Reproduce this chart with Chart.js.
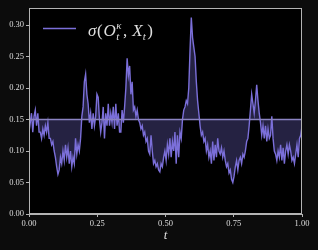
<!DOCTYPE html>
<html><head><meta charset="utf-8">
<script src="https://cdn.jsdelivr.net/npm/chart.js@4"></script>
<style>html,body{margin:0;padding:0;background:#0c0c0c;}#w{width:318px;height:250px;}</style>
</head><body><div id="w"><canvas id="c" width="318" height="250"></canvas></div>
<script>
const sigmaValues = [
0.13,0.145,0.16,0.13,0.155,
0.165,0.14,0.16,0.13,
0.13,0.12,0.135,0.125,
0.14,0.13,0.145,0.12,
0.12,0.11,0.115,0.10,
0.09,0.075,0.063,0.07,
0.09,0.08,0.10,0.085,
0.11,0.09,0.105,0.08,
0.10,0.075,0.09,0.08,
0.12,0.095,0.11,0.10,
0.12,0.155,
0.17,0.21,0.222,0.19,
0.175,0.145,0.16,0.135,
0.16,0.14,0.155,0.19,
0.185,0.15,0.13,0.145,
0.17,0.12,0.16,0.14,
0.175,0.14,0.16,0.145,
0.17,0.135,0.175,0.14,0.16,0.13,
0.13,0.165,0.145,
0.17,0.20,0.247,0.22,
0.235,0.19,0.21,0.165,
0.17,0.155,0.165,0.15,
0.145,0.135,0.14,0.125,
0.13,0.115,0.12,0.10,
0.095,0.125,0.10,0.08,
0.085,0.075,0.08,0.07,
0.067,0.08,0.075,0.09,
0.10,0.085,0.11,0.095,
0.12,0.09,0.115,0.10,
0.13,0.08,0.125,0.09,
0.13,0.12,0.15,0.165,
0.17,0.18,0.175,0.20,
0.26,0.312,0.28,0.265,
0.25,0.21,0.18,0.16,
0.14,0.125,0.13,0.115,
0.12,0.10,0.11,0.09,0.10,
0.08,0.115,0.085,
0.11,0.09,0.12,0.10,
0.095,0.105,0.09,0.10,
0.085,0.075,0.08,0.065,
0.07,0.055,0.05,0.06,
0.075,0.085,0.07,0.085,
0.09,0.08,0.095,0.09,
0.10,0.115,0.12,0.14,
0.165,0.19,0.175,0.16,
0.18,0.205,0.18,0.16,
0.145,0.125,0.14,0.12,
0.14,0.115,0.135,0.12,
0.125,0.155,0.12,0.10,
0.095,0.085,0.10,0.09,
0.11,0.085,0.105,0.08,
0.10,0.11,0.095,0.11,
0.10,0.085,0.09,0.08,
0.095,0.11,0.09,0.12,
0.125,0.14
];
const tStart = 0, tEnd = 1;
const threshold = 0.15;
const xTicks = [0, 0.25, 0.5, 0.75, 1.0];
const yTicks = [0, 0.05, 0.10, 0.15, 0.20, 0.25, 0.30];

const N = sigmaValues.length;
const seriesPoints = sigmaValues.map((v,i)=>({x: tStart + (tEnd-tStart)*i/(N-1), y: v}));
const thresholdPoints = [{x:tStart,y:threshold},{x:tEnd,y:threshold}];

const LINE = '#7b6fd9';
const SPINE = '#b4b4b4';
const TXT = '#dedede';
const SERIF = '"Liberation Serif", "DejaVu Serif", serif';

const framePlugin = {
  id:'frame',
  beforeDraw(chart){
    const {ctx, chartArea:a} = chart;
    ctx.save(); ctx.fillStyle='#000'; ctx.fillRect(a.left,a.top,a.right-a.left,a.bottom-a.top); ctx.restore();
  },
  afterDraw(chart){
    const {ctx, chartArea:a} = chart;
    ctx.save();
    ctx.strokeStyle=SPINE; ctx.lineWidth=1;
    ctx.strokeRect(Math.round(a.left)+0.5, Math.round(a.top)+0.5, Math.round(a.right-a.left)-1, Math.round(a.bottom-a.top)-1);
    // legend
    ctx.strokeStyle=LINE; ctx.lineWidth=1.5;
    ctx.beginPath(); ctx.moveTo(43,28.5); ctx.lineTo(76,28.5); ctx.stroke();
    ctx.fillStyle=TXT; ctx.textBaseline='alphabetic'; ctx.textAlign='left';
    let x=88; const by=35.5;
    const big='italic 17px '+SERIF, up='17px '+SERIF, small='italic 11px '+SERIF;
    function put(s,f,dy){ctx.font=f; ctx.fillText(s,x,by+(dy||0)); return ctx.measureText(s).width;}
    x+=put('σ',big)+0.5; x+=put('(',up)+1;
    x+=put('O',big)+0.5;
    const sx=x; const w1=put('κ',small,-7); const w2=put('t',small,4); x=sx+Math.max(w1,w2)+1.5;
    x+=put(',',up)+5;
    x+=put('X',big);
    x+=put('t',small,4)+1.5;
    put(')',up);
    ctx.restore();
  }
};

new Chart(document.getElementById('c'),{
  type:'line',
  data:{datasets:[
    {data:seriesPoints, borderColor:LINE, borderWidth:1.4, pointRadius:0, tension:0,
     fill:{value:threshold}, backgroundColor:'rgba(123,111,217,0.3)', order:1},
    {data:thresholdPoints, borderColor:'#8a83c2', borderWidth:1.5, pointRadius:0, fill:false, order:0}
  ]},
  plugins:[framePlugin],
  options:{
    responsive:false, animation:false, events:[],
    layout:{padding:{left:0,right:16,top:8,bottom:0}},
    plugins:{legend:{display:false}, tooltip:{enabled:false}},
    scales:{
      x:{type:'linear', min:0, max:1,
        afterBuildTicks:s=>{s.ticks=xTicks.map(v=>({value:v}));},
        afterFit:s=>{s.height=36;},
        grid:{drawOnChartArea:false, drawTicks:true, tickLength:3, color:SPINE},
        border:{color:SPINE,width:1},
        ticks:{color:TXT, font:{family:SERIF,size:8.5}, padding:2, maxRotation:0, autoSkip:false, callback:v=>Number(v).toFixed(2)},
        title:{display:true, text:'t', color:TXT, font:{family:SERIF,size:13,style:'italic'}, padding:{top:0,bottom:7}}
      },
      y:{type:'linear', min:0, max:0.327,
        afterBuildTicks:s=>{s.ticks=yTicks.map(v=>({value:v}));},
        afterFit:s=>{s.width=29;},
        grid:{drawOnChartArea:false, drawTicks:true, tickLength:3, color:SPINE},
        border:{color:SPINE,width:1},
        ticks:{color:TXT, font:{family:SERIF,size:8.5}, padding:2, autoSkip:false, callback:v=>Number(v).toFixed(2)}
      }
    }
  }
});
</script></body></html>
